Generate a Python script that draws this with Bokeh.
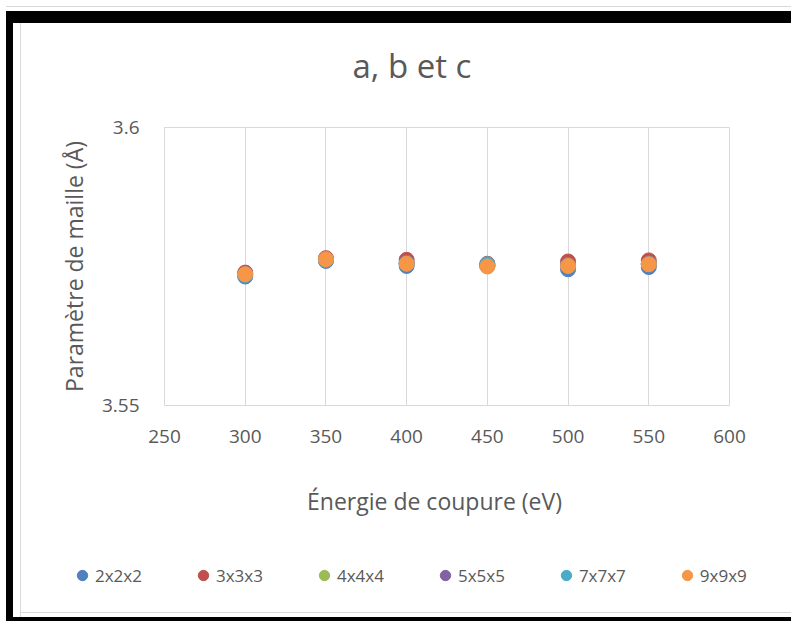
from bokeh.plotting import figure
from bokeh.layouts import column
from bokeh.models import Range1d, FixedTicker, CustomJSTickFormatter, Legend, Label
from bokeh.embed import file_html
from bokeh.resources import INLINE

energies = [300, 350, 400, 450, 500, 550]
s2 = [3.5732, 3.5760, 3.5751, 3.5751, 3.5745, 3.5749]
s3 = [3.5739, 3.5765, 3.5762, 3.5755, 3.5759, 3.5761]
s4 = [3.5736, 3.5763, 3.5756, 3.5751, 3.5752, 3.5755]
s5 = [3.5736, 3.5763, 3.5756, 3.5752, 3.5752, 3.5755]
s7 = [3.5735, 3.5762, 3.5755, 3.5754, 3.5751, 3.5754]
s9 = [3.5736, 3.5763, 3.5755, 3.5750, 3.5751, 3.5754]
series_names = ["2x2x2", "3x3x3", "4x4x4", "5x5x5", "7x7x7", "9x9x9"]
series_values = [s2, s3, s4, s5, s7, s9]
colors = ["#4F81BD", "#C0504D", "#9BBB59", "#8064A2", "#4BACC6", "#F79646"]
x_ticks = [250, 300, 350, 400, 450, 500, 550, 600]
y_ticks = [3.55, 3.6]

FONT = "Open Sans"
TXT = "#595959"

# ---- main chart ----
p = figure(width=791, height=460, output_backend="svg", toolbar_location=None,
           x_range=Range1d(250, 600), y_range=Range1d(3.55, 3.6),
           title="a, b et c",
           min_border_left=164, min_border_right=62, min_border_top=127, min_border_bottom=55)
p.frame_align = False
p.background_fill_color = "white"
p.border_fill_color = None
p.outline_line_color = "#d9d9d9"
p.outline_line_width = 1

p.title.align = "left"
p.title.offset = 188
p.title.standoff = 79
p.title.text_font = FONT
p.title.text_font_size = "33px"
p.title.text_font_style = "normal"
p.title.text_color = TXT

for name, vals, c in zip(series_names, series_values, colors):
    p.scatter(energies, vals, size=15, fill_color=c, line_color=c, line_width=1)

p.xaxis.ticker = FixedTicker(ticks=x_ticks)
p.yaxis.ticker = FixedTicker(ticks=y_ticks)
p.yaxis.formatter = CustomJSTickFormatter(code="return String(Math.round(tick*1000)/1000);")
for ax in (p.xaxis[0], p.yaxis[0]):
    ax.axis_line_color = None
    ax.major_tick_line_color = None
    ax.minor_tick_line_color = None
    ax.major_label_text_font = FONT
    ax.major_label_text_font_size = "19px"
    ax.major_label_text_color = TXT
    ax.axis_label_text_font = FONT
    ax.axis_label_text_font_size = "23px"
    ax.axis_label_text_font_style = "normal"
    ax.axis_label_text_color = TXT
p.xaxis.major_label_standoff = 18
p.yaxis.major_label_standoff = 19
p.yaxis.axis_label = "Paramètre de maille (Å)"
p.yaxis.axis_label_standoff = 9

p.xgrid.grid_line_color = "#d9d9d9"
p.ygrid.grid_line_color = None

# ---- lower band: x-axis title and legend (frame covers the whole band) ----
p2 = figure(width=791, height=161, output_backend="svg", toolbar_location=None,
            x_range=Range1d(0, 1), y_range=Range1d(0, 1),
            x_axis_location=None, y_axis_location=None,
            min_border_left=0, min_border_right=0, min_border_top=0, min_border_bottom=0)
p2.frame_align = False
p2.background_fill_color = None
p2.border_fill_color = None
p2.outline_line_color = None
p2.grid.visible = False

items = []
for name, vals, c in zip(series_names, series_values, colors):
    # same series, outside this band's ranges: only their legend swatches show here
    r = p2.scatter(energies, vals, size=15, fill_color=c, line_color=c)
    items.append((name, [r]))

p2.add_layout(Label(x=434, y=40, x_units="canvas", y_units="canvas",
                    text="Énergie de coupure (eV)", text_font=FONT, text_font_size="23px",
                    text_color=TXT, text_align="center", text_baseline="middle"))

leg = Legend(items=items, orientation="horizontal", location=(69, 30),
             margin=0, padding=0, spacing=48, glyph_width=26, glyph_height=32,
             label_height=20, label_standoff=0, label_text_font=FONT,
             label_text_font_size="17px", label_text_color=TXT,
             background_fill_alpha=0, border_line_color=None)
p2.add_layout(leg, "center")

layout = column(p, p2, spacing=0, styles={
    "background-color": "white",
    "box-shadow": ", ".join([
        "inset 6px 0 0 0 white",
        "inset 0 6px 0 0 white",
        "inset 0 7px 0 0 #d9d9d9",
        "inset 0 11px 0 0 white",
        "inset 0 23px 0 0 black",
        "inset 0 -4px 0 0 black",
        "inset 13px 0 0 0 black",
        "inset 20px 0 0 0 white",
        "inset 21px 0 0 0 #d9d9d9",
        "inset 0 -8px 0 0 white",
        "inset 0 -9px 0 0 #d9d9d9",
    ]),
})

open("out.html", "w").write(file_html(layout, INLINE))
